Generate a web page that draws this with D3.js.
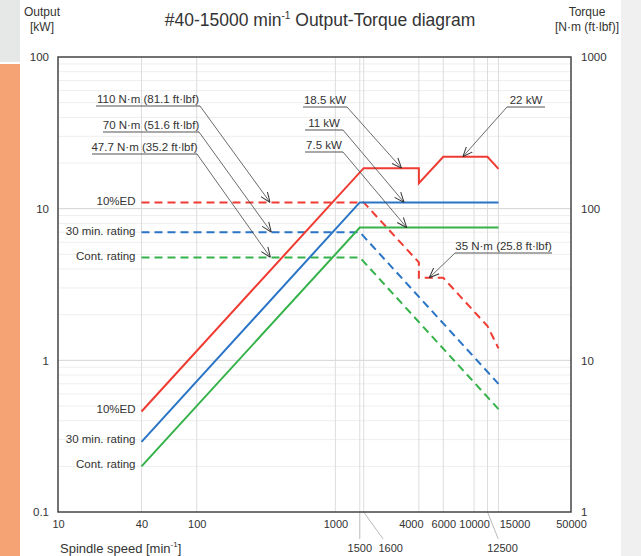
<!DOCTYPE html>
<html>
<head>
<meta charset="utf-8">
<script src="https://cdn.jsdelivr.net/npm/d3@7"></script>
<style>
  html, body { margin: 0; padding: 0; background: #fff; }
  svg { display: block; font-family: "Liberation Sans", Arial, sans-serif; }
  text { fill: #333; }
</style>
</head>
<body>
<svg id="chart" width="641" height="556"></svg>
<script>
'use strict';
/* Data
*/
var speedTicks = [10, 40, 100, 1000, 4000, 6000, 10000, 15000, 50000];
var speedTicksLow = [1500, 1600, 12500];
var speedGrid = [40, 100, 1000, 1500, 1600, 4000, 6000, 10000, 12500, 15000];
var outputTicks = [0.1, 1, 10, 100];
var torqueTicks = [1, 10, 100, 1000];

// [speed min-1, kW]
var power10ED = [[40, 0.46], [1600, 18.5], [4000, 18.5], [4000, 14.7], [6000, 22], [12500, 22], [15000, 18.3]];
var power30min = [[40, 0.29], [1500, 11], [15000, 11]];
var powerCont = [[40, 0.2], [1500, 7.5], [15000, 7.5]];

// [speed min-1, N·m]
var torque10ED = [[40, 110], [1600, 110], [4000, 44.2], [4000, 35], [6000, 35], [12500, 16.8], [15000, 12]];
var torque30min = [[40, 70], [1500, 70], [15000, 7]];
var torqueCont = [[40, 47.7], [1500, 47.7], [15000, 4.77]];

var ratingNames = ['10%ED', '30 min. rating', 'Cont. rating'];

// callouts: text, arrow target [speed, value], axis
var callouts = [
  { text: '110 N·m (81.1 ft·lbf)', at: [338, 110], axis: 'torque' },
  { text: '70 N·m (51.6 ft·lbf)', at: [345, 70], axis: 'torque' },
  { text: '47.7 N·m (35.2 ft·lbf)', at: [340, 47.7], axis: 'torque' },
  { text: '18.5 kW', at: [3000, 18.5], axis: 'power' },
  { text: '11 kW', at: [3130, 11], axis: 'power' },
  { text: '7.5 kW', at: [3270, 7.5], axis: 'power' },
  { text: '22 kW', at: [8300, 22], axis: 'power' },
  { text: '35 N·m (25.8 ft·lbf)', at: [4750, 35], axis: 'torque' }
];
// where each callout label sits: underline x0, x1, y, leader starts at 'end' or 'start'
var calloutPos = [
  [96, 200, 106, 'end'],
  [103, 199, 132, 'end'],
  [92, 197, 154, 'end'],
  [303, 347, 107, 'end'],
  [305, 343, 130, 'end'],
  [305, 343, 152, 'end'],
  [507, 545, 107, 'start'],
  [455, 552, 253, 'start']
];

var colors = ['#ef3b32', '#2a74c6', '#35b24a'];

/* Layout
*/
var svg = d3.select('#chart');
var plot = { left: 58, right: 571, top: 57, bottom: 512 };

// side panels
svg.append('rect').attr('x', 0).attr('y', 0).attr('width', 20).attr('height', 62).attr('fill', '#e6e7e7');
svg.append('rect').attr('x', 0).attr('y', 64).attr('width', 20).attr('height', 492).attr('fill', '#f5a374');
svg.append('rect').attr('x', 621).attr('y', 0).attr('width', 20).attr('height', 556).attr('fill', '#f0f0f0');

var x = d3.scaleLog().domain([10, 50000]).range([plot.left, plot.right]);
var yP = d3.scaleLog().domain([0.1, 100]).range([plot.bottom, plot.top]);
var yT = d3.scaleLog().domain([1, 1000]).range([plot.bottom, plot.top]);

/* Grid
*/
var grid = svg.append('g');
var minor = [];
outputTicks.slice(0, -1).forEach(function(d) {
  for (var k = 2; k < 10; k++) minor.push(d * k);
});
grid.selectAll('.hminor').data(minor).enter().append('line')
  .attr('x1', plot.left).attr('x2', plot.right)
  .attr('y1', function(d) { return yP(d); }).attr('y2', function(d) { return yP(d); })
  .attr('stroke', '#eeeeee').attr('stroke-width', 1);
grid.selectAll('.hmajor').data([1, 10]).enter().append('line')
  .attr('x1', plot.left).attr('x2', plot.right)
  .attr('y1', function(d) { return yP(d); }).attr('y2', function(d) { return yP(d); })
  .attr('stroke', '#d4d4d4').attr('stroke-width', 1);
grid.selectAll('.v').data(speedGrid).enter().append('line')
  .attr('x1', function(d) { return x(d); }).attr('x2', function(d) { return x(d); })
  .attr('y1', plot.top).attr('y2', plot.bottom)
  .attr('stroke', '#dddddd').attr('stroke-width', 1);

/* Axes
*/
var fmt = function(d) { return String(d); };
var axB = svg.append('g').attr('transform', 'translate(0,' + plot.bottom + ')')
  .call(d3.axisBottom(x).tickValues(speedTicks).tickFormat(fmt).tickSize(0).tickPadding(8));
var axL = svg.append('g').attr('transform', 'translate(' + plot.left + ',0)')
  .call(d3.axisLeft(yP).tickValues(outputTicks).tickFormat(fmt).tickSize(0).tickPadding(9));
var axR = svg.append('g').attr('transform', 'translate(' + plot.right + ',0)')
  .call(d3.axisRight(yT).tickValues(torqueTicks).tickFormat(fmt).tickSize(0).tickPadding(10));
[axB, axL, axR].forEach(function(a) {
  a.select('.domain').remove();
  a.selectAll('text').attr('font-size', 11.5).attr('fill', '#333')
    .attr('font-family', '"Liberation Sans", Arial, sans-serif');
});
// crowded speed labels are nudged apart, as on the original sheet
var nudge = { 4000: -8, 15000: 16 };
axB.selectAll('text').attr('font-size', 11)
  .attr('dx', function(d) { return nudge[d] || 0; });

// second row of speed labels with leaders
var lowOffset = { 1500: 0, 1600: 27, 12500: 15 };
var low = svg.append('g');
speedTicksLow.forEach(function(d) {
  var x0 = x(d), x1 = x(d) + lowOffset[d];
  low.append('line').attr('x1', x0).attr('y1', plot.bottom).attr('x2', x0 + (x1 - x0) * 0.72).attr('y2', plot.bottom + 27)
    .attr('stroke', '#bbbbbb').attr('stroke-width', 1);
  low.append('text').attr('x', x1).attr('y', plot.bottom + 40).attr('text-anchor', 'middle')
    .attr('font-size', 11).text(d);
});

svg.append('rect').attr('x', plot.left).attr('y', plot.top)
  .attr('width', plot.right - plot.left).attr('height', plot.bottom - plot.top)
  .attr('fill', 'none').attr('stroke', '#444').attr('stroke-width', 1.5);

/* Series
*/
var lineP = d3.line().x(function(d) { return x(d[0]); }).y(function(d) { return yP(d[1]); });
var lineT = d3.line().x(function(d) { return x(d[0]); }).y(function(d) { return yT(d[1]); });
var powers = [power10ED, power30min, powerCont];
var torques = [torque10ED, torque30min, torqueCont];

torques.forEach(function(s, i) {
  svg.append('path').attr('d', lineT(s)).attr('fill', 'none').attr('stroke', colors[i])
    .attr('stroke-width', 2).attr('stroke-dasharray', '8,5');
});
powers.forEach(function(s, i) {
  svg.append('path').attr('d', lineP(s)).attr('fill', 'none').attr('stroke', colors[i])
    .attr('stroke-width', 2);
});

// rating names beside the curves
ratingNames.forEach(function(name, i) {
  svg.append('text').attr('x', x(40) - 6).attr('y', yT(torques[i][0][1]) - 1.5)
    .attr('dy', '0.35em').attr('text-anchor', 'end').attr('font-size', 11.5).text(name);
  svg.append('text').attr('x', x(40) - 6).attr('y', yP(powers[i][0][1]) - 2.5)
    .attr('dy', '0.35em').attr('text-anchor', 'end').attr('font-size', 11.5).text(name);
});

/* Callouts
*/
svg.append('defs').append('marker').attr('id', 'arr')
  .attr('viewBox', '0 0 10 10').attr('refX', 10).attr('refY', 5)
  .attr('markerWidth', 10).attr('markerHeight', 10).attr('markerUnits', 'userSpaceOnUse')
  .attr('orient', 'auto')
  .append('path').attr('d', 'M0,1 L10,5 L0,9').attr('fill', 'none').attr('stroke', '#333').attr('stroke-width', 1);

var co = svg.append('g');
callouts.forEach(function(c, i) {
  var p = calloutPos[i];
  var tx = x(c.at[0]);
  var ty = c.axis === 'torque' ? yT(c.at[1]) : yP(c.at[1]);
  co.append('line').attr('x1', p[0]).attr('x2', p[1]).attr('y1', p[2]).attr('y2', p[2])
    .attr('stroke', '#555').attr('stroke-width', 1.2);
  co.append('text').attr('x', (p[0] + p[1]) / 2).attr('y', p[2] - 3).attr('text-anchor', 'middle')
    .attr('font-size', 11.5).text(c.text);
  co.append('line').attr('x1', p[3] === 'end' ? p[1] : p[0]).attr('y1', p[2])
    .attr('x2', tx).attr('y2', ty)
    .attr('stroke', '#444').attr('stroke-width', 0.8).attr('marker-end', 'url(#arr)');
});

/* Titles
*/
var title = svg.append('text').attr('x', 320).attr('y', 26).attr('text-anchor', 'middle').attr('font-size', 17.5);
title.append('tspan').text('#40-15000 min');
title.append('tspan').attr('font-size', 10).attr('dy', -7).text('-1');
title.append('tspan').attr('dy', 7).text(' Output-Torque diagram');

svg.append('text').attr('x', 42).attr('y', 16).attr('text-anchor', 'middle').attr('font-size', 12).text('Output');
svg.append('text').attr('x', 42).attr('y', 31).attr('text-anchor', 'middle').attr('font-size', 12).text('[kW]');
svg.append('text').attr('x', 587).attr('y', 16).attr('text-anchor', 'middle').attr('font-size', 12).text('Torque');
svg.append('text').attr('x', 587).attr('y', 31).attr('text-anchor', 'middle').attr('font-size', 12).text('[N·m (ft·lbf)]');

var xl = svg.append('text').attr('x', 60).attr('y', 553).attr('font-size', 13);
xl.append('tspan').text('Spindle speed [min');
xl.append('tspan').attr('font-size', 8).attr('dy', -6).text('-1');
xl.append('tspan').attr('dy', 6).text(']');
</script>
</body>
</html>
